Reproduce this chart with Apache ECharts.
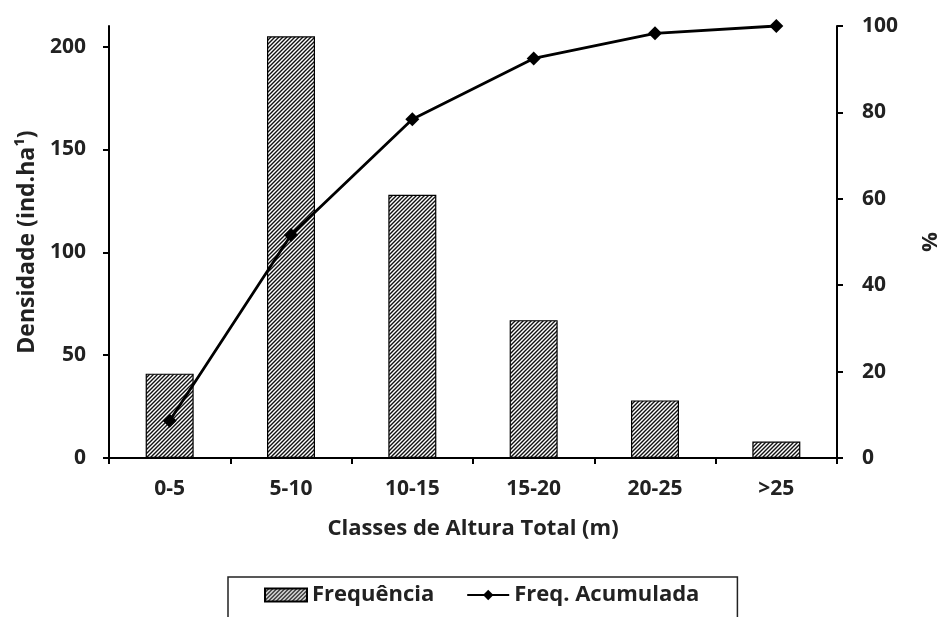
<!DOCTYPE html>
<html lang="pt">
  <head>
    <meta charset="UTF-8" />
    <title>Classes de Altura Total</title>
    <script src="https://cdn.jsdelivr.net/npm/echarts@6/dist/echarts.min.js"></script>
    <style>
      body { margin: 0; background: #fff; }
    </style>
  </head>

  <body>
    <div id="main" style="width: 937px; height: 617px"></div>

    <script>
      // dados
      var classes = ["0-5", "5-10", "10-15", "15-20", "20-25", ">25"];
      var densidade = [41, 205, 128, 67, 28, 8];
      var freqAcumulada = [8.6, 51.6, 78.4, 92.5, 98.3, 100];

      // hachura diagonal "/" para as barras
      var hatch = document.createElement("canvas");
      hatch.width = 4;
      hatch.height = 4;
      var ctx = hatch.getContext("2d");
      ctx.fillStyle = "#fff";
      ctx.fillRect(0, 0, 4, 4);
      ctx.strokeStyle = "#111";
      ctx.lineWidth = 1.4;
      ctx.beginPath();
      ctx.moveTo(-1, 5); ctx.lineTo(5, -1);
      ctx.moveTo(-3, 3); ctx.lineTo(3, -3);
      ctx.moveTo(1, 7); ctx.lineTo(7, 1);
      ctx.stroke();

      var font = "Open Sans";
      var txt = "#222";

      var myChart = echarts.init(document.getElementById("main"));

      var option = {
        animation: false,
        textStyle: { fontFamily: font },
        grid: { left: 109, right: 100, top: 26, bottom: 159, outerBoundsMode: "none" },
        legend: {
          top: 577,
          left: 228,
          padding: [7, 38, 14, 36],
          borderColor: "#222",
          borderWidth: 1.5,
          itemGap: 32,
          itemWidth: 42,
          itemHeight: 13,
          textStyle: { fontFamily: font, fontSize: 22, fontWeight: "bold", color: txt },
          data: [{ name: "Frequência", icon: "rect" }, { name: "Freq. Acumulada" }],
        },
        xAxis: {
          type: "category",
          data: classes,
          name: "Classes de Altura Total (m)",
          nameLocation: "middle",
          nameGap: 60,
          nameTextStyle: { fontSize: 22, fontWeight: "bold", color: txt },
          axisLine: { lineStyle: { color: "#000", width: 2 } },
          axisTick: { show: true, length: 6, lineStyle: { color: "#000", width: 2 } },
          axisLabel: { margin: 21, fontSize: 21, fontWeight: "bold", color: txt },
        },
        yAxis: [
          {
            type: "value",
            min: 0,
            max: 210,
            interval: 50,
            name: "Densidade (ind.ha¹)",
            nameLocation: "middle",
            nameGap: 64,
            nameTextStyle: { fontSize: 23, fontWeight: "bold", color: txt },
            axisLine: { show: true, lineStyle: { color: "#000", width: 2 } },
            axisTick: { show: true, length: 6, lineStyle: { color: "#000", width: 2 } },
            axisLabel: { margin: 23, fontSize: 21, fontWeight: "bold", color: txt, showMaxLabel: false },
            splitLine: { show: false },
          },
          {
            type: "value",
            min: 0,
            max: 100,
            interval: 20,
            name: "%",
            nameLocation: "middle",
            nameGap: 80,
            nameRotate: -90,
            nameTextStyle: { fontSize: 22, fontWeight: "bold", color: txt },
            axisLine: { show: true, lineStyle: { color: "#000", width: 2 } },
            axisTick: { show: true, length: 6, lineStyle: { color: "#000", width: 2 } },
            axisLabel: { margin: 25, fontSize: 21, fontWeight: "bold", color: txt },
            splitLine: { show: false },
          },
        ],
        series: [
          {
            name: "Frequência",
            type: "bar",
            yAxisIndex: 0,
            barWidth: 48,
            data: densidade,
            itemStyle: {
              color: { image: hatch, repeat: "repeat" },
              borderColor: "#000",
              borderWidth: 1.2,
            },
          },
          {
            name: "Freq. Acumulada",
            type: "line",
            yAxisIndex: 1,
            data: freqAcumulada,
            symbol: "diamond",
            symbolSize: 14,
            lineStyle: { color: "#000", width: 2.8 },
            itemStyle: { color: "#000" },
            z: 5,
          },
        ],
      };
      myChart.setOption(option);
    </script>
  </body>
</html>
